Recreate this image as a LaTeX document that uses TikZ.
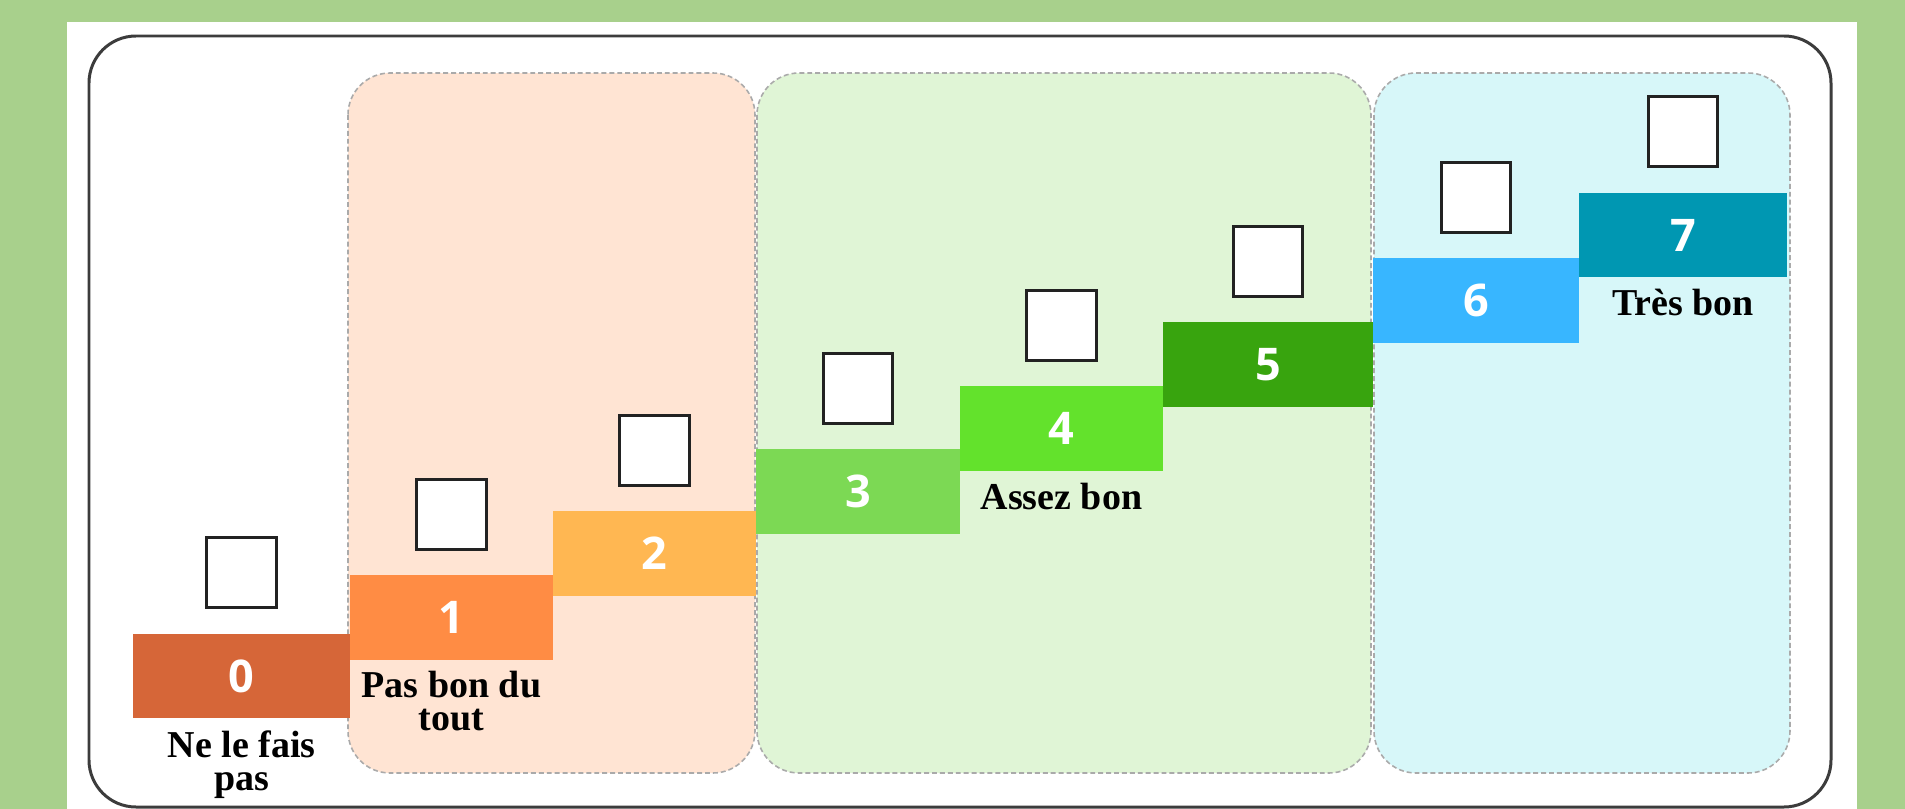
\documentclass[tikz,border=0pt]{standalone}
\usepackage{fontspec}
\setmainfont{Liberation Serif}
\newfontfamily\numfont{Open Sans}
\usepackage{tikz}
\usetikzlibrary{positioning}
\definecolor{bggreen}{RGB}{168,208,140}
\definecolor{framegray}{RGB}{60,60,60}
\definecolor{boxline}{RGB}{34,34,34}
\definecolor{zoneline}{RGB}{170,170,170}
\definecolor{peach}{RGB}{255,228,211}
\definecolor{mint}{RGB}{224,245,214}
\definecolor{sky}{RGB}{215,247,249}
\definecolor{lvl0}{RGB}{214,102,56}
\definecolor{lvl1}{RGB}{255,140,68}
\definecolor{lvl2}{RGB}{255,183,82}
\definecolor{lvl3}{RGB}{124,217,84}
\definecolor{lvl4}{RGB}{99,226,44}
\definecolor{lvl5}{RGB}{56,164,14}
\definecolor{lvl6}{RGB}{56,182,255}
\definecolor{lvl7}{RGB}{0,151,178}

\begin{document}
\begin{tikzpicture}[x=0.01cm,y=-0.01cm,
  stepbar/.style={rectangle, minimum height=0.84cm, inner sep=0pt, text=white,
    font=\numfont\bfseries\fontsize{12.8}{14}\selectfont},
  checkbox/.style={rectangle, draw=boxline, fill=white, line width=0.85pt,
    minimum width=0.69cm, minimum height=0.70cm, inner sep=0pt},
  caption/.style={align=center, inner sep=0pt, font=\bfseries\fontsize{10.8}{9.4}\selectfont},
  zone/.style={draw=zoneline, line width=0.45pt, dash pattern=on 1.4pt off 0.85pt,
    rounded corners=0.42cm}]
\useasboundingbox (0,0) rectangle (1905,809);
\fill[bggreen] (0,0) rectangle (1905,809);
\fill[white] (67,22) rectangle (1857,809);
\draw[framegray, line width=0.85pt, rounded corners=0.47cm] (89,36) rectangle (1831,807);
\draw[zone, fill=peach] (348,73) rectangle (755,773);
\draw[zone, fill=mint] (757,73) rectangle (1371,773);
\draw[zone, fill=sky] (1374,73) rectangle (1790,773);
\foreach \i/\cx/\cy/\w in {0/241.5/676/2.17, 1/451.5/617.5/2.03, 2/654.5/553.5/2.03,
  3/858/491.5/2.04, 4/1061.5/428.5/2.03, 5/1268/364.5/2.10, 6/1476/300.5/2.06, 7/1683/235/2.08}
  \node[stepbar, fill=lvl\i, minimum width=\w cm] (bar\i) at (\cx,\cy) {\i};
\foreach \i in {0,...,7}
  \node[checkbox, above=0.24cm of bar\i] (box\i) {};
\node[caption, below=0.11cm of bar0] (lab0) {Ne le fais\\pas};
\node[caption, below=0.10cm of bar1] (lab1) {Pas bon du\\tout};
\node[caption, below=0.11cm of bar4] (lab4) {Assez bon};
\node[caption, below=0.11cm of bar7] (lab7) {Très bon};
\end{tikzpicture}
\end{document}
